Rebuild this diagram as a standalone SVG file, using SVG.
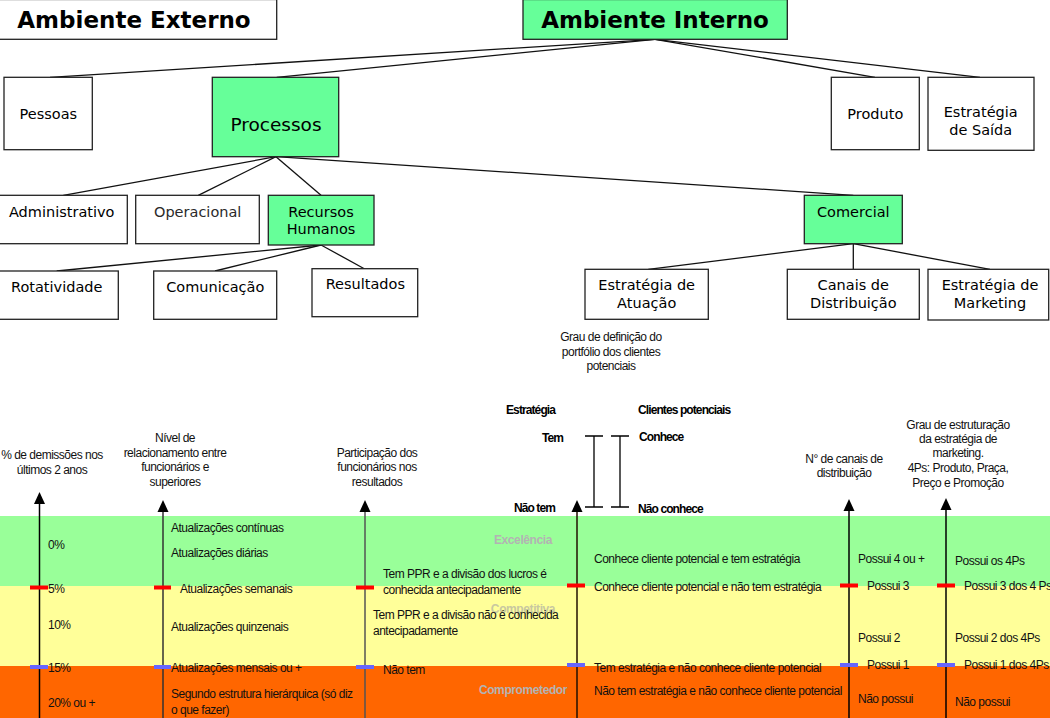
<svg xmlns="http://www.w3.org/2000/svg" width="1050" height="718" viewBox="0 0 1050 718">
  <defs>
    <style>
      .box { fill: #ffffff; stroke: #222; stroke-width: 1.3; }
      .hl { fill: #66ff99; stroke: #222; stroke-width: 1.3; }
      .t { font-family: "DejaVu Sans", Verdana, sans-serif; font-size: 14.5px; fill: #000; text-anchor: middle; }
      .big { font-family: "DejaVu Sans", Verdana, sans-serif; font-size: 23px; font-weight: bold; fill: #000; text-anchor: middle; }
      .link { stroke: #111; stroke-width: 1.3; fill: none; }
      .s { font-family: "Liberation Sans", Arial, sans-serif; font-size: 12px; letter-spacing: -0.5px; fill: #111; }
      .sc { text-anchor: middle; }
      .sb { font-family: "Liberation Sans", Arial, sans-serif; font-size: 12px; font-weight: bold; letter-spacing: -0.9px; fill: #000; }
      .band { font-family: "Liberation Sans", Arial, sans-serif; font-size: 12px; font-weight: bold; letter-spacing: -0.4px; fill: #b3b3b3; text-anchor: middle; }
      .axis { stroke: #000; stroke-width: 1.5; }
      .head { fill: #000; }
      .red { fill: #ff0000; }
      .blue { fill: #6666ff; }
    </style>
  </defs>

  <!-- tree connectors -->
  <g id="connectors">
    <path class="link" d="M655 39.3 L50 77.3"/>
    <path class="link" d="M655 39.3 L276.7 77.3"/>
    <path class="link" d="M655 39.3 L875 77.3"/>
    <path class="link" d="M655 39.3 L980 77.3"/>
    <path class="link" d="M276 156.7 L63.3 195.3"/>
    <path class="link" d="M276 156.7 L198.3 195.3"/>
    <path class="link" d="M276 156.7 L321 195.3"/>
    <path class="link" d="M276 156.7 L853.3 195.3"/>
    <path class="link" d="M321 245 L56.7 271"/>
    <path class="link" d="M321 245 L215 271"/>
    <path class="link" d="M321 245 L364.3 268.7"/>
    <path class="link" d="M853.3 243.7 L648.3 269.3"/>
    <path class="link" d="M853.3 243.7 L853.3 269.3"/>
    <path class="link" d="M853.3 243.7 L990 269.3"/>
  </g>

  <!-- tree nodes -->
  <g id="ambiente-externo">
    <rect class="box" x="-2" y="-0.5" width="278.7" height="39.8"/>
    <text class="big" x="134" y="28.3">Ambiente Externo</text>
  </g>
  <g id="ambiente-interno">
    <rect class="hl" x="523" y="-0.5" width="264.3" height="39.8"/>
    <text class="big" x="655" y="28.3">Ambiente Interno</text>
  </g>
  <g id="pessoas">
    <rect class="box" x="4" y="77.3" width="88.3" height="72.4"/>
    <text class="t" x="48.3" y="119.3">Pessoas</text>
  </g>
  <g id="processos">
    <rect class="hl" x="212.3" y="77.3" width="126.4" height="79.4"/>
    <text class="t" x="276" y="130.7" style="font-size:18.5px">Processos</text>
  </g>
  <g id="produto">
    <rect class="box" x="831.3" y="77.3" width="88" height="72.4"/>
    <text class="t" x="875.3" y="119.3">Produto</text>
  </g>
  <g id="estrategia-saida">
    <rect class="box" x="928" y="77.3" width="106" height="73"/>
    <text class="t" x="980.7" y="117.3">Estratégia</text>
    <text class="t" x="980.7" y="135">de Saída</text>
  </g>
  <g id="administrativo">
    <rect class="box" x="-2" y="195.3" width="129.3" height="48.4"/>
    <text class="t" x="61.7" y="216.7">Administrativo</text>
  </g>
  <g id="operacional">
    <rect class="box" x="135.7" y="195.3" width="123.6" height="48.4"/>
    <text class="t" x="197.7" y="216.7" style="fill:#2a2a2a">Operacional</text>
  </g>
  <g id="recursos-humanos">
    <rect class="hl" x="268.3" y="195.3" width="105.7" height="49.7"/>
    <text class="t" x="321" y="216.7">Recursos</text>
    <text class="t" x="321" y="234.3">Humanos</text>
  </g>
  <g id="comercial">
    <rect class="hl" x="804.3" y="195.3" width="98" height="48.4"/>
    <text class="t" x="853.3" y="216.7">Comercial</text>
  </g>
  <g id="rotatividade">
    <rect class="box" x="-2" y="271" width="120.3" height="48.3"/>
    <text class="t" x="56.7" y="292.3">Rotatividade</text>
  </g>
  <g id="comunicacao">
    <rect class="box" x="153.7" y="271" width="123" height="48.3"/>
    <text class="t" x="215.3" y="292.3">Comunicação</text>
  </g>
  <g id="resultados">
    <rect class="box" x="312" y="268.7" width="105.7" height="48"/>
    <text class="t" x="365.3" y="289.3">Resultados</text>
  </g>
  <g id="estrategia-atuacao">
    <rect class="box" x="585" y="269.3" width="123.3" height="50"/>
    <text class="t" x="646.7" y="289.8">Estratégia de</text>
    <text class="t" x="646.7" y="307.5">Atuação</text>
  </g>
  <g id="canais-distribuicao">
    <rect class="box" x="787.3" y="269.3" width="132" height="50"/>
    <text class="t" x="853.3" y="289.8">Canais de</text>
    <text class="t" x="853.3" y="307.5">Distribuição</text>
  </g>
  <g id="estrategia-marketing">
    <rect class="box" x="928" y="269.3" width="120.7" height="50.7"/>
    <text class="t" x="990" y="290.3">Estratégia de</text>
    <text class="t" x="990" y="308">Marketing</text>
  </g>

  <!-- evaluation bands -->
  <g id="bands">
    <rect x="0" y="516" width="1050" height="70" fill="#99ff99"/>
    <rect x="0" y="586" width="1050" height="80" fill="#ffff99"/>
    <rect x="0" y="666" width="1050" height="52" fill="#ff6600"/>
    <text class="band" x="523" y="544">Excelência</text>
    <text class="band" x="523" y="613" style="fill:#c8c8a0">Competitiva</text>
    <text class="band" x="523" y="694">Comprometedor</text>
  </g>

  <!-- scale axes -->
  <g id="axes">
    <line class="axis" x1="39.5" y1="718" x2="39.5" y2="500"/>
    <line class="axis" x1="163" y1="718" x2="163" y2="508" style="stroke:#333"/>
    <line class="axis" x1="365" y1="718" x2="365" y2="508" style="stroke:#555"/>
    <line class="axis" x1="577" y1="718" x2="577" y2="508" style="stroke:#221100"/>
    <line class="axis" x1="849" y1="718" x2="849" y2="507"/>
    <line class="axis" x1="946" y1="718" x2="946" y2="506"/>
    <path class="head" d="M39.5 492 L45 504 L34 504 Z"/>
    <path class="head" d="M163 500 L168.5 512 L157.5 512 Z"/>
    <path class="head" d="M365 500 L370.5 512 L359.5 512 Z"/>
    <path class="head" d="M577 500 L582.5 512 L571.5 512 Z"/>
    <path class="head" d="M849 499 L854.5 511 L843.5 511 Z"/>
    <path class="head" d="M946 498 L951.5 510 L940.5 510 Z"/>
    <rect class="red" x="30" y="585.5" width="18" height="4"/>
    <rect class="red" x="154" y="585.5" width="17" height="4"/>
    <rect class="red" x="356" y="585.5" width="18" height="4"/>
    <rect class="red" x="567" y="583.5" width="18" height="4"/>
    <rect class="red" x="840" y="583.5" width="18" height="4"/>
    <rect class="red" x="937" y="583.5" width="18" height="4"/>
    <rect class="blue" x="30" y="665" width="18" height="4"/>
    <rect class="blue" x="154" y="665" width="17" height="4"/>
    <rect class="blue" x="356" y="665" width="18" height="4"/>
    <rect class="blue" x="567" y="663" width="18" height="4"/>
    <rect class="blue" x="840" y="663" width="18" height="4"/>
    <rect class="blue" x="937" y="663" width="18" height="4"/>
  </g>

  <!-- demissões scale -->
  <g id="scale-demissoes">
    <text class="s sc" x="52" y="459">% de demissões nos</text>
    <text class="s sc" x="52" y="474">últimos 2 anos</text>
    <text class="s" x="48" y="549">0%</text>
    <text class="s" x="48" y="593">5%</text>
    <text class="s" x="48" y="629">10%</text>
    <text class="s" x="48" y="672">15%</text>
    <text class="s" x="48" y="707">20% ou +</text>
  </g>

  <!-- relacionamento scale -->
  <g id="scale-relacionamento">
    <text class="s sc" x="175" y="442">Nível de</text>
    <text class="s sc" x="175" y="457">relacionamento entre</text>
    <text class="s sc" x="175" y="471">funcionários e</text>
    <text class="s sc" x="175" y="486">superiores</text>
    <text class="s" x="171" y="532">Atualizações contínuas</text>
    <text class="s" x="171" y="557">Atualizações diárias</text>
    <text class="s" x="180" y="593">Atualizações semanais</text>
    <text class="s" x="171" y="631">Atualizações quinzenais</text>
    <text class="s" x="171" y="672">Atualizações mensais ou +</text>
    <text class="s" x="171" y="698">Segundo estrutura hierárquica (só diz</text>
    <text class="s" x="171" y="714">o que fazer)</text>
  </g>

  <!-- participação scale -->
  <g id="scale-participacao">
    <text class="s sc" x="377" y="457">Participação dos</text>
    <text class="s sc" x="377" y="471">funcionários nos</text>
    <text class="s sc" x="377" y="486">resultados</text>
    <text class="s" x="383" y="578">Tem PPR e a divisão dos lucros é</text>
    <text class="s" x="383" y="594">conhecida antecipadamente</text>
    <text class="s" x="373" y="619">Tem PPR e a divisão não é conhecida</text>
    <text class="s" x="373" y="635">antecipadamente</text>
    <text class="s" x="383" y="674">Não tem</text>
  </g>

  <!-- portfólio scale -->
  <g id="scale-portfolio">
    <text class="s sc" x="611" y="341">Grau de definição do</text>
    <text class="s sc" x="611" y="356">portfólio dos clientes</text>
    <text class="s sc" x="611" y="370">potenciais</text>
    <text class="sb" x="506" y="414">Estratégia</text>
    <text class="sb" x="638" y="414">Clientes potenciais</text>
    <text class="sb" x="563" y="442" text-anchor="end">Tem</text>
    <text class="sb" x="639" y="441">Conhece</text>
    <text class="sb" x="555" y="512" text-anchor="end">Não tem</text>
    <text class="sb" x="638" y="513">Não conhece</text>
    <path d="M594 436 V507 M585 436 H603 M585 507 H603 M620 436 V507 M611 436 H629 M611 507 H629" stroke="#000" stroke-width="1.3" fill="none"/>
    <text class="s" x="594" y="563">Conhece cliente potencial e tem estratégia</text>
    <text class="s" x="594" y="591">Conhece cliente potencial e não tem estratégia</text>
    <text class="s" x="594" y="672">Tem estratégia e não conhece cliente potencial</text>
    <text class="s" x="594" y="695">Não tem estratégia e não conhece cliente potencial</text>
  </g>

  <!-- canais scale -->
  <g id="scale-canais">
    <text class="s sc" x="844" y="463">N° de canais de</text>
    <text class="s sc" x="844" y="477">distribuição</text>
    <text class="s" x="858" y="563">Possui 4 ou +</text>
    <text class="s" x="867" y="590">Possui 3</text>
    <text class="s" x="858" y="642">Possui 2</text>
    <text class="s" x="867" y="669">Possui 1</text>
    <text class="s" x="858" y="703">Não possui</text>
  </g>

  <!-- marketing scale -->
  <g id="scale-marketing">
    <text class="s sc" x="958" y="429">Grau de estruturação</text>
    <text class="s sc" x="958" y="443">da estratégia de</text>
    <text class="s sc" x="958" y="457">marketing.</text>
    <text class="s sc" x="958" y="472">4Ps: Produto, Praça,</text>
    <text class="s sc" x="958" y="487">Preço e Promoção</text>
    <text class="s" x="955" y="565">Possui os 4Ps</text>
    <text class="s" x="964" y="590">Possui 3 dos 4 Ps</text>
    <text class="s" x="955" y="642">Possui 2 dos 4Ps</text>
    <text class="s" x="964" y="669">Possui 1 dos 4Ps</text>
    <text class="s" x="955" y="706">Não possui</text>
  </g>
</svg>
